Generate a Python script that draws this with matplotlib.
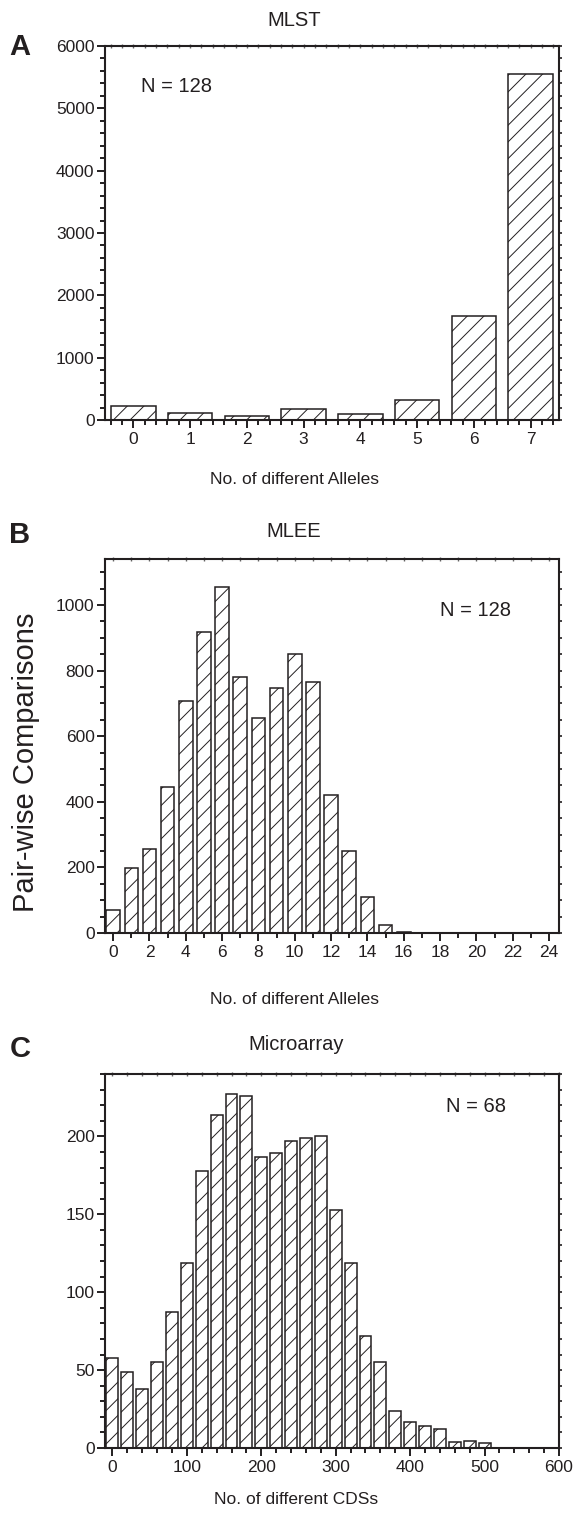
import matplotlib
matplotlib.use("Agg")
import matplotlib.pyplot as plt
from matplotlib.ticker import MultipleLocator

plt.rcParams["font.family"] = ["Liberation Sans", "DejaVu Sans"]
plt.rcParams["hatch.linewidth"] = 0.7
plt.rcParams["hatch.color"] = "#231f20"

# data
mlst_alleles = list(range(8))
mlst_counts = [225, 118, 64, 176, 96, 321, 1668, 5556]

mlee_alleles = list(range(25))
mlee_counts = [70, 198, 256, 445, 707, 917, 1055, 780, 656, 748, 849, 765,
               420, 251, 109, 24, 2, 0, 0, 0, 0, 0, 0, 0, 0]

cds_bins = list(range(0, 520, 20))
cds_counts = [58, 49, 38, 55, 87, 119, 178, 214, 227, 226, 187, 189, 197,
              199, 200, 153, 119, 72, 55, 24, 17, 14, 12, 4, 4.5, 3]

W, H = 576, 1517
INK = "#231f20"


def ax_rect(top, bottom, left=105, right=559):
    return [left / W, 1 - bottom / H, (right - left) / W, (bottom - top) / H]


def ftext(x, y, s, **kw):
    fig.text(x / W, 1 - y / H, s, ha="center", va="center", color=INK, **kw)


def style_axes(ax, xmaj, xmin, ymaj, ymin):
    for sp in ax.spines.values():
        sp.set_linewidth(1.5)
        sp.set_color(INK)
    ax.xaxis.set_major_locator(MultipleLocator(xmaj))
    ax.xaxis.set_minor_locator(MultipleLocator(xmin))
    ax.yaxis.set_major_locator(MultipleLocator(ymaj))
    ax.yaxis.set_minor_locator(MultipleLocator(ymin))
    ax.tick_params(axis="x", which="major", direction="out", length=6,
                   width=1.4, color=INK, labelsize=12.5, pad=3, labelcolor=INK)
    ax.tick_params(axis="x", which="minor", direction="out", length=3.5,
                   width=1.4, color=INK)
    ax.tick_params(axis="y", which="major", direction="out", length=6,
                   width=1.4, color=INK, labelsize=12.5, pad=1.5, labelcolor=INK)
    ax.tick_params(axis="y", which="minor", direction="out", length=3.5,
                   width=1.4, color=INK)
    # small ticks on top and right spines
    top = ax.secondary_xaxis("top")
    top.xaxis.set_major_locator(MultipleLocator(xmin))
    top.tick_params(direction="inout", length=2.5, width=1, color="#666666",
                    labeltop=False)
    right = ax.secondary_yaxis("right")
    right.yaxis.set_major_locator(MultipleLocator(ymin))
    right.tick_params(direction="out", length=2.5, width=1.2, color=INK,
                      labelright=False)
    for s in list(top.spines.values()) + list(right.spines.values()):
        s.set_visible(False)


fig = plt.figure(figsize=(W / 100, H / 100), dpi=100)

# A: MLST
axA = fig.add_axes(ax_rect(46, 420))
axA.bar(mlst_alleles, mlst_counts, width=0.78, color="white",
        edgecolor=INK, linewidth=1.1, hatch="//")
axA.set_xlim(-0.5, 7.5)
axA.set_ylim(0, 6000)
style_axes(axA, 1, 0.2, 1000, 200)
axA.text(141 / W, 1 - 86 / H, "N = 128", transform=fig.transFigure,
         fontsize=14.5, va="center", color=INK)
ftext(294, 20, "MLST", fontsize=14.5)
ftext(20, 47, "A", fontsize=21, fontweight="bold")
ftext(294, 480, "No. of different Alleles", fontsize=12.5)

# B: MLEE
axB = fig.add_axes(ax_rect(559, 933))
axB.bar(mlee_alleles, mlee_counts, width=0.75, color="white",
        edgecolor=INK, linewidth=1.1, hatch="//")
axB.set_xlim(-0.45, 24.55)
axB.set_ylim(0, 1140)
style_axes(axB, 2, 1, 200, 50)
axB.set_yticks([0, 200, 400, 600, 800, 1000])
axB.text(440 / W, 1 - 610 / H, "N = 128", transform=fig.transFigure,
         fontsize=14.5, va="center", color=INK)
ftext(294, 532, "MLEE", fontsize=14.5)
ftext(20, 535, "B", fontsize=21, fontweight="bold")
ftext(294, 1000, "No. of different Alleles", fontsize=12.5)
ftext(26, 762, "Pair-wise Comparisons", fontsize=21, rotation=90)

# C: Microarray
axC = fig.add_axes(ax_rect(1074, 1448))
axC.bar(cds_bins, cds_counts, width=16, color="white",
        edgecolor=INK, linewidth=1.1, hatch="//")
axC.set_xlim(-10, 600)
axC.set_ylim(0, 240)
style_axes(axC, 100, 20, 50, 10)
axC.set_yticks([0, 50, 100, 150, 200])
axC.text(446 / W, 1 - 1107 / H, "N = 68", transform=fig.transFigure,
         fontsize=14.5, va="center", color=INK)
ftext(296, 1045, "Microarray", fontsize=14.5)
ftext(20, 1049, "C", fontsize=21, fontweight="bold")
ftext(296, 1500, "No. of different CDSs", fontsize=12.5)

fig.savefig("out.png", dpi=100)
plt.close(fig)
